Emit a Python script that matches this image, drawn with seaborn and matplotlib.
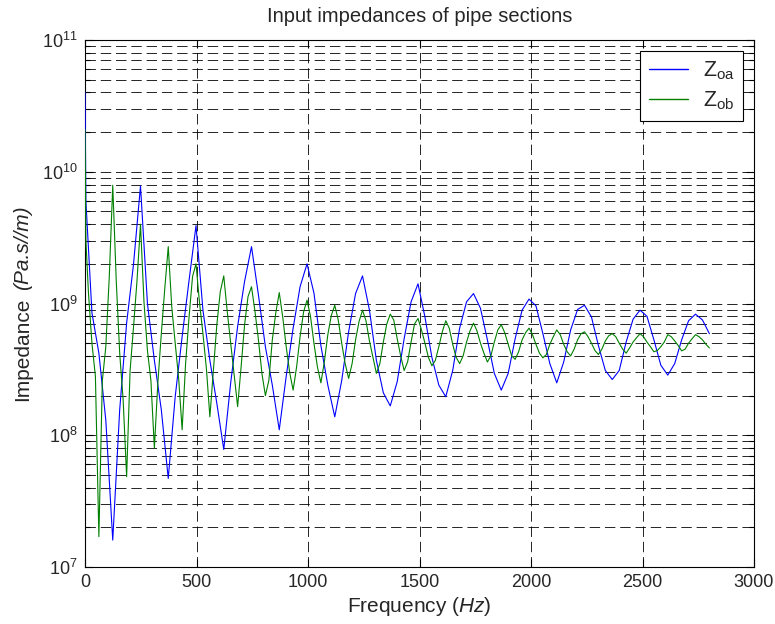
import numpy as np
import pandas as pd
import matplotlib
matplotlib.use("Agg")
import matplotlib.pyplot as plt
from matplotlib.ticker import LogLocator, NullFormatter, FixedLocator
import seaborn as sns

# ---------------- data ----------------
# Z_oa (blue): f=0, a near-zero point, then ~31.1 Hz steps up to 2800 Hz
freq_a = [0.0, 4.0] + list(np.round(np.linspace(2800 / 90, 2800, 90), 2))
z_oa = [4.0e10, 6.0e9,
        8.5e8, 4.2e8, 1.3e8, 1.6e7, 1.56e8, 7.1e8, 2.0e9, 7.8e9,
        1.0e9, 3.7e8, 1.56e8, 4.7e7, 1.96e8, 5.6e8, 1.5e9, 3.9e9,
        8.9e8, 3.7e8, 1.75e8, 7.8e7, 2.5e8, 6.7e8, 1.47e9, 2.7e9,
        1.16e9, 4.7e8, 2.4e8, 1.1e8, 2.8e8, 6.5e8, 1.34e9, 2.0e9,
        1.2e9, 4.8e8, 2.4e8, 1.38e8, 2.6e8, 6.1e8, 1.19e9, 1.62e9,
        8.9e8, 3.7e8, 2.1e8, 1.67e8, 2.55e8, 5.4e8, 1.03e9, 1.41e9,
        7.9e8, 3.9e8, 2.4e8, 1.96e8, 3.1e8, 6.5e8, 1.03e9, 1.19e9,
        9.2e8, 5.3e8, 2.95e8, 2.2e8, 2.95e8, 5.4e8, 8.9e8, 1.08e9,
        9.6e8, 5.9e8, 3.5e8, 2.5e8, 3.6e8, 6.3e8, 9.0e8, 9.7e8,
        7.9e8, 4.8e8, 3.1e8, 2.65e8, 3.1e8, 5.1e8, 7.6e8, 8.9e8,
        8.0e8, 5.3e8, 3.4e8, 2.86e8, 3.5e8, 5.3e8, 7.4e8, 8.3e8,
        7.5e8, 5.9e8]

# Z_ob (green): f=0, a near-zero point, then ~15.6 Hz steps up to 2800 Hz
freq_b = [0.0, 4.0] + list(np.round(np.linspace(2800 / 180, 2800, 180), 2))
z_ob = [2.1e10, 3.0e9,
        1.2e9, 5.0e8, 2.8e8, 1.7e7, 2.6e8, 4.7e8, 1.6e9, 7.9e9,
        1.5e9, 4.2e8, 1.85e8, 4.85e7, 3.1e8, 6.7e8, 1.5e9, 4.0e9,
        1.03e9, 4.4e8, 2.6e8, 8.0e7, 2.5e8, 5.9e8, 1.3e9, 2.7e9,
        9.5e8, 5.0e8, 2.7e8, 1.1e8, 3.5e8, 7.9e8, 1.6e9, 2.0e9,
        1.02e9, 5.9e8, 3.2e8, 1.38e8, 3.1e8, 6.9e8, 1.23e9, 1.62e9,
        8.7e8, 5.0e8, 2.9e8, 1.65e8, 3.3e8, 6.9e8, 1.13e9, 1.34e9,
        8.7e8, 5.3e8, 2.95e8, 2.0e8, 2.6e8, 5.3e8, 8.5e8, 1.21e9,
        7.9e8, 4.7e8, 3.0e8, 2.2e8, 3.3e8, 5.6e8, 8.6e8, 1.06e9,
        8.0e8, 5.0e8, 3.3e8, 2.5e8, 3.6e8, 5.8e8, 8.1e8, 9.7e8,
        7.5e8, 5.0e8, 3.5e8, 2.7e8, 3.5e8, 5.3e8, 7.3e8, 8.9e8,
        7.4e8, 5.2e8, 3.9e8, 2.95e8, 3.5e8, 5.1e8, 7.0e8, 8.3e8,
        7.5e8, 5.4e8, 4.0e8, 3.1e8, 3.6e8, 5.1e8, 7.0e8, 7.7e8,
        6.3e8, 5.0e8, 3.9e8, 3.37e8, 3.7e8, 4.7e8, 6.1e8, 7.4e8,
        6.5e8, 4.9e8, 3.9e8, 3.5e8, 4.0e8, 5.1e8, 6.2e8, 7.1e8,
        6.2e8, 5.0e8, 4.2e8, 3.6e8, 4.0e8, 5.1e8, 6.3e8, 6.9e8,
        6.0e8, 4.9e8, 4.0e8, 3.77e8, 4.3e8, 5.3e8, 6.0e8, 6.5e8,
        5.8e8, 4.9e8, 4.2e8, 3.87e8, 4.1e8, 4.9e8, 5.6e8, 6.3e8,
        5.8e8, 4.9e8, 4.3e8, 4.0e8, 4.5e8, 5.3e8, 5.9e8, 6.1e8,
        5.6e8, 5.0e8, 4.4e8, 4.1e8, 4.5e8, 5.2e8, 5.7e8, 5.9e8,
        5.6e8, 5.0e8, 4.5e8, 4.2e8, 4.6e8, 5.1e8, 5.5e8, 5.9e8,
        5.6e8, 5.1e8, 4.7e8, 4.3e8, 4.4e8, 4.7e8, 5.1e8, 5.8e8,
        5.6e8, 5.2e8, 4.8e8, 4.37e8, 4.5e8, 5.0e8, 5.4e8, 5.8e8,
        5.6e8, 5.3e8, 4.9e8, 4.6e8]

series_names = [r"Z$_{\rm oa}$", r"Z$_{\rm ob}$"]
x_ticks = [0, 500, 1000, 1500, 2000, 2500, 3000]
y_ticks = [1e7, 1e8, 1e9, 1e10, 1e11]
y_tick_labels = [r"$10^{7}$", r"$10^{8}$", r"$10^{9}$", r"$10^{10}$", r"$10^{11}$"]

df = pd.concat([
    pd.DataFrame({"f": freq_a, "Z": z_oa, "series": series_names[0]}),
    pd.DataFrame({"f": freq_b, "Z": z_ob, "series": series_names[1]}),
])

# ---------------- style ----------------
sns.set_style("white")
plt.rcParams["font.family"] = ["Liberation Sans", "DejaVu Sans"]
plt.rcParams["mathtext.fontset"] = "custom"
plt.rcParams["mathtext.rm"] = "Liberation Sans"
plt.rcParams["mathtext.it"] = "Liberation Sans:italic"
plt.rcParams["mathtext.default"] = "regular"
plt.rcParams["lines.scale_dashes"] = False

W, H = 775, 624
fig = plt.figure(figsize=(W / 100, H / 100), dpi=100)
ax = fig.add_axes([85 / W, 1 - 567 / H, (754 - 85) / W, (567 - 40) / H])
ax.set_yscale("log")

sns.lineplot(data=df, x="f", y="Z", hue="series",
             palette={series_names[0]: "#0000ff", series_names[1]: "#008000"},
             estimator=None, sort=False, linewidth=0.8, zorder=3, ax=ax)

ax.set_xlim(0, 3000)
ax.set_ylim(1e7, 1e11)
ax.xaxis.set_major_locator(FixedLocator(x_ticks))
ax.set_xticklabels([str(t) for t in x_ticks])
ax.yaxis.set_major_locator(FixedLocator(y_ticks))
ax.set_yticklabels(y_tick_labels)
ax.yaxis.set_minor_locator(LogLocator(base=10, subs=np.arange(2, 10), numticks=20))
ax.yaxis.set_minor_formatter(NullFormatter())

dash = (0, (7.5, 3.5))
ax.grid(True, which="major", axis="both", color="black", linewidth=0.6, linestyle=dash)
ax.grid(True, which="minor", axis="y", color="black", linewidth=0.6, linestyle=dash)
ax.set_axisbelow(True)

ax.tick_params(which="both", direction="in", top=True, right=True,
               bottom=True, left=True, labelsize=13, color="black")
ax.tick_params(which="major", length=6, width=0.8, pad=5)
ax.tick_params(which="minor", length=3.5, width=0.8)
for sp in ax.spines.values():
    sp.set_color("black")
    sp.set_linewidth(0.8)
    sp.set_visible(True)
    sp.set_zorder(2.5)

TITLE_FS = 14.5
LABEL_FS = 15
ax.set_title("Input impedances of pipe sections", fontsize=TITLE_FS, pad=13)
ax.set_xlabel(r"Frequency $\mathit{(Hz)}$", fontsize=LABEL_FS, labelpad=3)
ax.set_ylabel("")

# y label: upright part + italic part, centred together on the axes
renderer = fig.canvas.get_renderer()
ybase = 28 / W
t1 = fig.text(ybase, 0.5, "Impedance", rotation=90, rotation_mode="anchor",
              ha="center", va="baseline", fontsize=LABEL_FS)
t2 = fig.text(ybase, 0.5, "(Pa.s//m)", rotation=90, rotation_mode="anchor",
              ha="center", va="baseline", fontsize=LABEL_FS, style="italic")
h1 = t1.get_window_extent(renderer).height
h2 = t2.get_window_extent(renderer).height
gap = 0.35 * LABEL_FS * 100 / 72
centre = H - (40 + 567) / 2
start = centre - (h1 + gap + h2) / 2
t1.set_y((start + h1 / 2) / H)
t2.set_y((start + h1 + gap + h2 / 2) / H)

leg = ax.legend(loc="upper right", fontsize=15.5, frameon=True, fancybox=False,
                edgecolor="black", framealpha=1, handlelength=1.8,
                borderaxespad=0.5, labelspacing=0.35, handletextpad=0.7,
                borderpad=0.4)
leg.get_frame().set_linewidth(0.8)
for line in leg.get_lines():
    line.set_linewidth(1.0)

fig.savefig("out.png", dpi=100)
